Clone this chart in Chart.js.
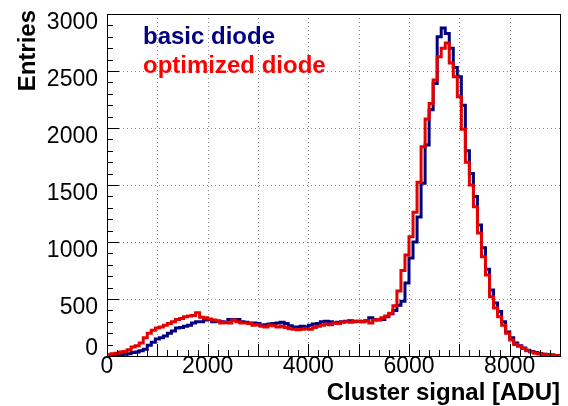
<!DOCTYPE html>
<html>
<head>
<meta charset="utf-8">
<script src="https://cdn.jsdelivr.net/npm/chart.js@4.4.0/dist/chart.umd.min.js"></script>
<style>
  html, body { margin: 0; padding: 0; background: #fff; }
</style>
</head>
<body>
<canvas id="grafico" width="568" height="406"></canvas>
<script>
// histogram bins: 80 ADU wide, starting at 0
const binStart = 0;
const binWidth = 80;

// basic diode (blue), one value per bin
const basicDiode = [
  5, 8, 10, 12, 15, 20, 30, 35, 45, 60,
  95, 120, 150, 160, 175, 200, 220, 245, 250, 260,
  270, 290, 300, 300, 315, 320, 300, 305, 300, 295,
  320, 315, 320, 300, 295, 290, 290, 285, 270, 275,
  280, 285, 290, 295, 285, 265, 255, 255, 260, 255,
  270, 280, 285, 300, 305, 300, 290, 295, 300, 305,
  310, 300, 305, 300, 310, 335, 320, 315, 320, 345,
  370, 400, 445, 480, 640, 860, 1000, 1220, 1515, 1850,
  2160, 2390, 2800, 2877, 2830, 2700, 2530, 2450, 2200, 1800,
  1600, 1400, 1150, 950, 760, 580, 465, 390, 300, 210,
  160, 115, 90, 70, 50, 40, 30, 20, 15, 10,
  8, 5, 3
];

// optimized diode (red)
const optimizedDiode = [
  10, 20, 25, 35, 40, 55, 80, 90, 115, 160,
  200, 225, 245, 255, 270, 285, 300, 320, 330, 345,
  350, 355, 380, 340, 335, 325, 315, 310, 290, 295,
  290, 315, 300, 290, 290, 285, 270, 275, 260, 255,
  270, 265, 255, 260, 250, 240, 235, 230, 235, 240,
  235, 250, 260, 270, 280, 275, 290, 285, 295, 300,
  295, 305, 305, 300, 310, 290, 315, 320, 335, 350,
  375, 440, 570, 750, 885, 1045, 1260, 1525, 1835, 2080,
  2215, 2420, 2625, 2700, 2745, 2570, 2450, 2275, 1990, 1700,
  1500, 1310, 1080, 870, 710, 520, 420, 345, 270, 200,
  140, 100, 85, 65, 45, 35, 25, 20, 15, 10,
  8, 5, 3
];

const xTicks = [0, 2000, 4000, 6000, 8000];
const yTicks = [0, 500, 1000, 1500, 2000, 2500, 3000];

const fonte = '"Liberation Sans", Arial, Helvetica, sans-serif';
const azul = '#000080';
const vermelho = '#ff0000';

// left bin edges + closing edge, drawn as steps
function pontos(valores) {
  const pts = valores.map((v, i) => ({ x: binStart + i * binWidth, y: v }));
  pts.push({ x: binStart + valores.length * binWidth, y: valores[valores.length - 1] });
  return pts;
}

// ROOT-like frame: dotted grid, inward ticks, labels, titles and the text legend
const moldura = {
  id: 'moldura',
  beforeDatasetsDraw(chart) {
    const { ctx, chartArea: a, scales: { x, y } } = chart;
    ctx.save();
    ctx.strokeStyle = '#8a8a8a';
    ctx.lineWidth = 1;
    ctx.setLineDash([1, 3]);
    for (let v = 1000; v < x.max; v += 1000) {
      const px = Math.round(x.getPixelForValue(v)) + 0.5;
      ctx.beginPath(); ctx.moveTo(px, a.top); ctx.lineTo(px, a.bottom); ctx.stroke();
    }
    yTicks.forEach(v => {
      if (v <= y.min || v >= y.max) return;
      const py = Math.round(y.getPixelForValue(v)) + 0.5;
      ctx.beginPath(); ctx.moveTo(a.left, py); ctx.lineTo(a.right, py); ctx.stroke();
    });
    ctx.restore();
  },
  afterDatasetsDraw(chart) {
    const { ctx, chartArea: a, scales: { x, y } } = chart;
    ctx.save();
    ctx.strokeStyle = '#000';
    ctx.lineWidth = 1;
    ctx.strokeRect(Math.round(a.left) + 0.5, Math.round(a.top) + 0.5,
      Math.round(a.right - a.left), Math.round(a.bottom - a.top));

    // ticks
    ctx.beginPath();
    for (let v = 0; v <= y.max; v += 100) {
      const py = Math.round(y.getPixelForValue(v)) + 0.5;
      const len = v % 500 === 0 ? 12 : 6;
      ctx.moveTo(a.left, py); ctx.lineTo(a.left + len, py);
    }
    for (let v = 0; v <= x.max; v += 200) {
      const px = Math.round(x.getPixelForValue(v)) + 0.5;
      const len = v % 1000 === 0 ? 12 : 6;
      ctx.moveTo(px, a.bottom); ctx.lineTo(px, a.bottom - len);
    }
    ctx.stroke();

    // tick labels
    ctx.fillStyle = '#000';
    ctx.font = '23px ' + fonte;
    ctx.textAlign = 'right';
    ctx.textBaseline = 'alphabetic';
    yTicks.forEach(v => {
      const py = y.getPixelForValue(v);
      ctx.fillText(String(v), a.left - 9, v === 0 ? py - 1 : py + 15);
    });
    ctx.textAlign = 'center';
    xTicks.forEach(v => {
      ctx.fillText(String(v), x.getPixelForValue(v), a.bottom + 17);
    });

    // axis titles
    ctx.font = 'bold 24px ' + fonte;
    ctx.textAlign = 'right';
    ctx.fillText('Cluster signal [ADU]', a.right, 400);
    ctx.save();
    ctx.translate(35, a.top - 4);
    ctx.rotate(-Math.PI / 2);
    ctx.fillText('Entries', 0, 0);
    ctx.restore();

    // legend
    ctx.textAlign = 'left';
    ctx.fillStyle = azul;
    ctx.fillText('basic diode', 143, 44);
    ctx.fillStyle = vermelho;
    ctx.fillText('optimized diode', 143, 73);
    ctx.restore();
  }
};

new Chart(document.getElementById('grafico'), {
  type: 'line',
  data: {
    datasets: [
      {
        label: 'basic diode',
        data: pontos(basicDiode),
        borderColor: azul,
        borderWidth: 3,
        stepped: 'before',
        pointRadius: 0,
        fill: false,
        order: 1
      },
      {
        label: 'optimized diode',
        data: pontos(optimizedDiode),
        borderColor: '#e60000',
        borderWidth: 3,
        stepped: 'before',
        pointRadius: 0,
        fill: false,
        order: 0
      }
    ]
  },
  options: {
    responsive: false,
    animation: false,
    devicePixelRatio: 1,
    layout: { padding: { left: 107, right: 8, top: 14, bottom: 50 } },
    plugins: { legend: { display: false }, tooltip: { enabled: false } },
    scales: {
      x: { type: 'linear', min: 0, max: 9000, display: false },
      y: { type: 'linear', min: 0, max: 3000, display: false }
    }
  },
  plugins: [moldura]
});
</script>
</body>
</html>
